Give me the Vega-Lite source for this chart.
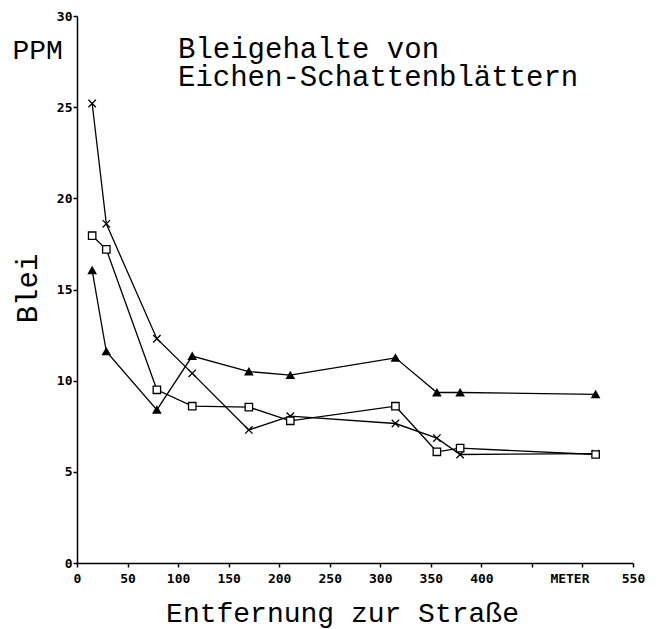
{
  "$schema": "https://vega.github.io/schema/vega-lite/v6.json",
  "width": 556,
  "height": 547,
  "autosize": "none",
  "padding": {"left": 77, "top": 16, "right": 37, "bottom": 66},
  "background": "white",
  "config": {"view": {"stroke": null}},
  "title": {
    "text": ["Bleigehalte von", "Eichen-Schattenblättern"],
    "anchor": "start",
    "frame": "group",
    "orient": "top",
    "offset": 0,
    "dx": 101,
    "dy": 105,
    "baseline": "alphabetic",
    "font": "Liberation Mono",
    "fontSize": 29,
    "fontWeight": "normal",
    "lineHeight": 28,
    "color": "black"
  },
  "data": {
    "values": [
      {"s": "x", "m": 15, "ppm": 25.2},
      {"s": "x", "m": 29, "ppm": 18.6},
      {"s": "x", "m": 79, "ppm": 12.3},
      {"s": "x", "m": 114, "ppm": 10.4},
      {"s": "x", "m": 170, "ppm": 7.3},
      {"s": "x", "m": 211, "ppm": 8.05},
      {"s": "x", "m": 315, "ppm": 7.65},
      {"s": "x", "m": 356, "ppm": 6.85},
      {"s": "x", "m": 379, "ppm": 5.95},
      {"s": "x", "m": 513, "ppm": 6.0},
      {"s": "q", "m": 15, "ppm": 17.95},
      {"s": "q", "m": 29, "ppm": 17.2},
      {"s": "q", "m": 79, "ppm": 9.5},
      {"s": "q", "m": 114, "ppm": 8.6},
      {"s": "q", "m": 170, "ppm": 8.55},
      {"s": "q", "m": 211, "ppm": 7.8},
      {"s": "q", "m": 315, "ppm": 8.6},
      {"s": "q", "m": 356, "ppm": 6.1},
      {"s": "q", "m": 379, "ppm": 6.3},
      {"s": "q", "m": 513, "ppm": 5.95},
      {"s": "t", "m": 15, "ppm": 16.05},
      {"s": "t", "m": 29, "ppm": 11.6},
      {"s": "t", "m": 79, "ppm": 8.4},
      {"s": "t", "m": 114, "ppm": 11.35},
      {"s": "t", "m": 170, "ppm": 10.5},
      {"s": "t", "m": 211, "ppm": 10.3},
      {"s": "t", "m": 315, "ppm": 11.25},
      {"s": "t", "m": 356, "ppm": 9.35},
      {"s": "t", "m": 379, "ppm": 9.35},
      {"s": "t", "m": 513, "ppm": 9.25}
    ]
  },
  "encoding": {
    "x": {
      "field": "m",
      "type": "quantitative",
      "scale": {"domain": [0, 550], "nice": false, "zero": false},
      "axis": {
        "values": [0, 50, 100, 150, 200, 250, 300, 350, 400, 450, 500, 550],
        "labelExpr": "datum.value == 450 ? '' : datum.value == 500 ? 'METER' : datum.label",
        "labelOffset": {"condition": {"test": "datum.value == 500", "value": -13}, "value": 0},
        "labelFont": "DejaVu Sans Mono",
        "labelFontWeight": "bold",
        "labelFontSize": 13,
        "labelColor": "black",
        "labelFlush": false,
        "labelPadding": 5,
        "tickSize": 4,
        "tickColor": "black",
        "tickWidth": 1.5,
        "domainColor": "black",
        "domainWidth": 1.5,
        "grid": false,
        "title": "Entfernung zur Straße",
        "titleFont": "Liberation Mono",
        "titleFontSize": 28,
        "titleFontWeight": "normal",
        "titleColor": "black",
        "titleX": 265,
        "titleY": 58,
        "titleAlign": "center",
        "titleBaseline": "alphabetic"
      }
    }
  },
  "layer": [
    {
      "mark": {"type": "line", "color": "black", "strokeWidth": 1.3},
      "encoding": {
        "y": {
          "field": "ppm",
          "type": "quantitative",
          "scale": {"domain": [0, 30], "nice": false},
          "axis": {
            "orient": "left",
            "values": [0, 5, 10, 15, 20, 25, 30],
            "labelFont": "DejaVu Sans Mono",
            "labelFontWeight": "bold",
            "labelFontSize": 13,
            "labelColor": "black",
            "labelFlush": false,
            "labelPadding": 1,
            "tickSize": 4,
            "tickColor": "black",
            "tickWidth": 1.5,
            "domainColor": "black",
            "domainWidth": 1.5,
            "grid": false,
            "title": "Blei",
            "titleFont": "Liberation Mono",
            "titleFontSize": 29,
            "titleFontWeight": "normal",
            "titleColor": "black",
            "titleAngle": 270,
            "titleX": -41,
            "titleY": 272,
            "titleAlign": "center",
            "titleBaseline": "alphabetic"
          }
        },
        "detail": {"field": "s", "type": "nominal"}
      }
    },
    {
      "mark": {"type": "point", "stroke": "black", "strokeWidth": 1.3, "size": 55, "opacity": 1},
      "encoding": {
        "y": {
          "field": "ppm",
          "type": "quantitative",
          "scale": {"domain": [0, 30], "nice": false},
          "axis": {
            "orient": "right",
            "domain": false,
            "ticks": false,
            "labels": false,
            "grid": false,
            "title": "PPM",
            "titleFont": "Liberation Mono",
            "titleFontSize": 28,
            "titleFontWeight": "normal",
            "titleColor": "black",
            "titleAngle": 0,
            "titleX": -621,
            "titleY": 42,
            "titleAlign": "left",
            "titleBaseline": "alphabetic"
          }
        },
        "shape": {
          "field": "s",
          "type": "nominal",
          "scale": {"domain": ["x", "q", "t"], "range": ["M-1,-1L1,1M-1,1L1,-1", "square", "triangle-up"]},
          "legend": null
        },
        "fill": {
          "field": "s",
          "type": "nominal",
          "scale": {"domain": ["x", "q", "t"], "range": ["transparent", "white", "black"]},
          "legend": null
        }
      }
    }
  ],
  "resolve": {"axis": {"y": "independent"}}
}
